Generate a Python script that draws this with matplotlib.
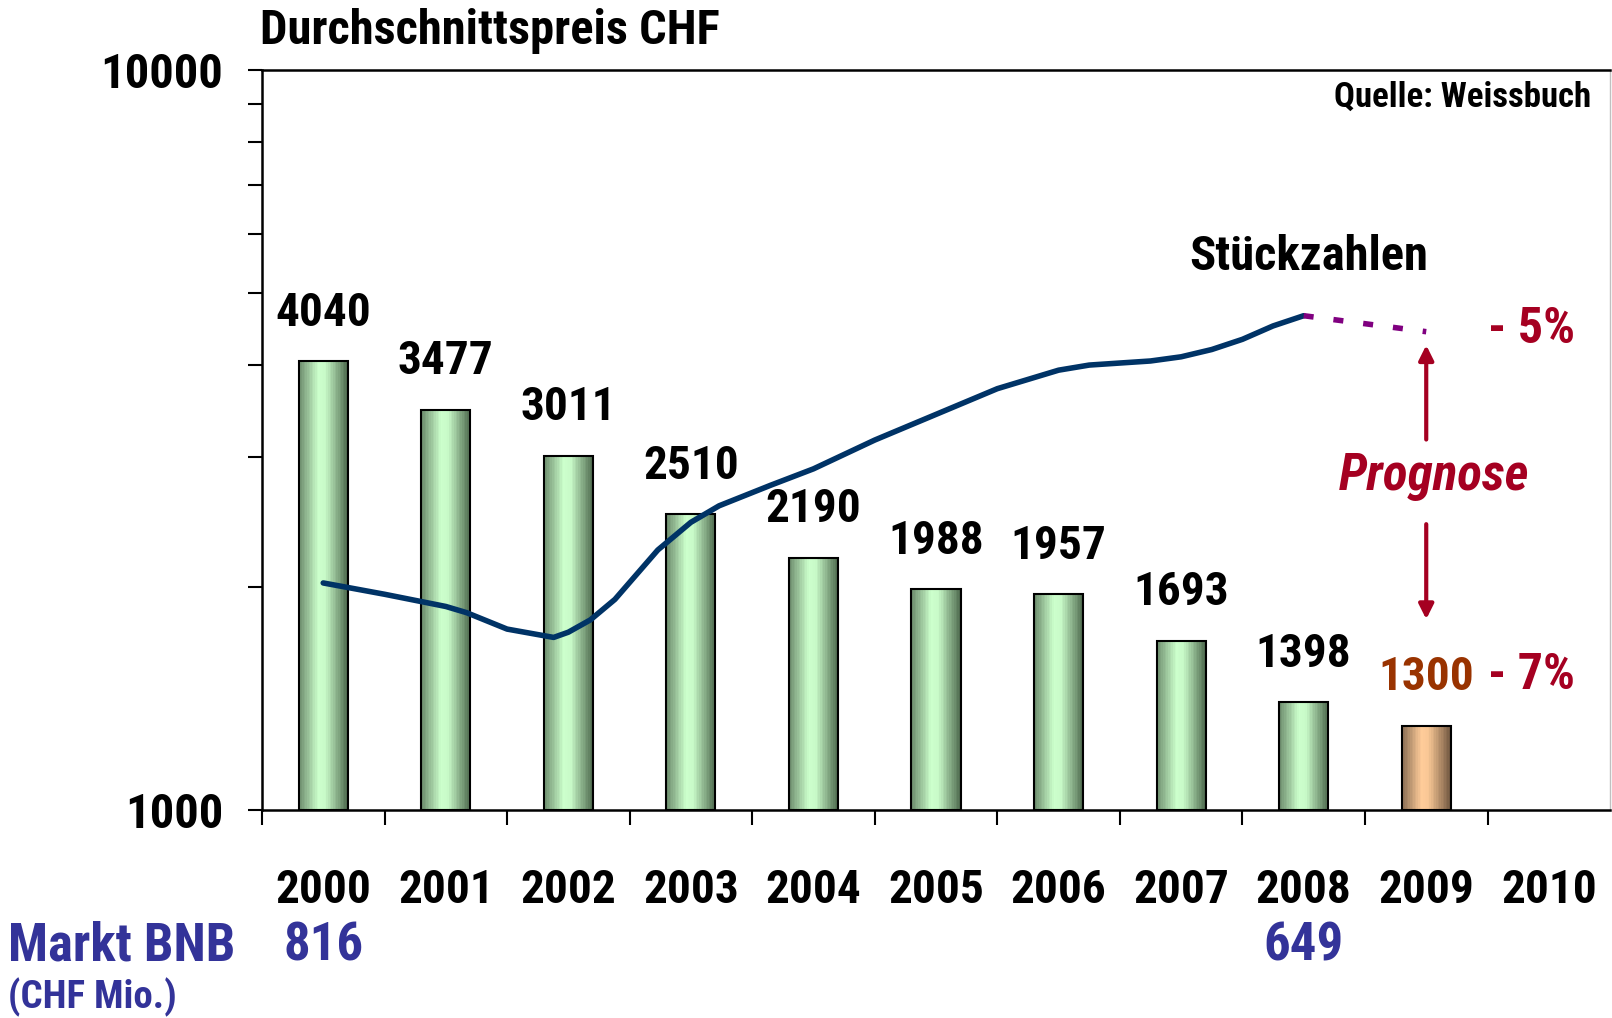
import matplotlib
matplotlib.use("Agg")
import numpy as np
import matplotlib.pyplot as plt
import matplotlib.transforms as mtransforms
from matplotlib.colors import LinearSegmentedColormap
from matplotlib.ticker import NullFormatter

plt.rcParams['font.family'] = ['Roboto Condensed', 'Liberation Sans', 'DejaVu Sans']
plt.rcParams['font.weight'] = 'bold'

# data
years = ['2000', '2001', '2002', '2003', '2004', '2005',
         '2006', '2007', '2008', '2009', '2010']
prices = [4040, 3477, 3011, 2510, 2190, 1988, 1957, 1693, 1398, 1300]
forecast_bar = 9

# Stückzahlen curve (same log axis, positions in category units)
units_x = [0, 0.5, 1, 1.17, 1.5, 1.88, 2, 2.18, 2.38, 2.73, 3, 3.23, 3.65,
           4, 4.5, 5, 5.5, 6, 6.25, 6.75, 7, 7.25, 7.5, 7.75, 8]
units = [2027, 1957, 1884, 1848, 1756, 1711, 1739, 1807, 1926, 2246, 2448,
         2577, 2747, 2891, 3162, 3425, 3710, 3930, 3993, 4044, 4097, 4191,
         4326, 4510, 4656]
forecast_x = [8, 9]
forecast_units = [4656, 4430]

market_labels = {0: '816', 8: '649'}

blue = '#333399'
darkred = '#A50021'
brown = '#993300'

green_cmap = LinearSegmentedColormap.from_list(
    'g', [(0, '#6f8f6f'), (0.4, '#ccffcc'), (0.55, '#c8fac8'), (1, '#526e52')])
orange_cmap = LinearSegmentedColormap.from_list(
    'o', [(0, '#8c7056'), (0.4, '#ffcc99'), (0.55, '#f8c795'), (1, '#765b43')])

fig = plt.figure(figsize=(16.12, 10.18), dpi=100)
ax = fig.add_axes([0.1625, 0.2043, 0.8363, 0.7269])
ax.set_yscale('log')

bar_w = 0.40
n_slices = 30
for i, v in enumerate(prices):
    cmap = orange_cmap if i == forecast_bar else green_cmap
    left = i - bar_w / 2
    sw = bar_w / n_slices
    xs = left + sw * (np.arange(n_slices) + 0.5)
    cols = [cmap(k / (n_slices - 1)) for k in range(n_slices)]
    ax.bar(xs, v - 1000, bottom=1000, width=sw * 1.02, color=cols,
           linewidth=0, zorder=2)
    ax.bar(i, v - 1000, bottom=1000, width=bar_w, fill=False,
           edgecolor='black', linewidth=1.5, zorder=3)
    ax.annotate(str(v), (i, v), xytext=(0, 35), textcoords='offset points',
                ha='center', va='center', fontsize=34,
                color=brown if i == forecast_bar else 'black')

ax.plot(units_x, units, color='#003366', linewidth=4, zorder=4,
        solid_capstyle='round')
ax.plot(forecast_x, forecast_units, color='#800080', linewidth=4,
        linestyle=(0, (1.8, 3.6)), zorder=4)

ax.set_xlim(-0.5, 10.5)
ax.set_ylim(1000, 10000)

ax.set_xticks(range(len(years)))
ax.set_xticklabels(years, fontsize=34)
ax.tick_params(axis='x', which='major', length=0, pad=42)
ax.set_xticks(np.arange(-0.5, 10), minor=True)
ax.tick_params(axis='x', which='minor', length=11, width=1.5, direction='out')

ax.set_yticks([1000, 10000])
ax.set_yticklabels(['1000', '10000'], fontsize=35)
ax.set_yticks([2000, 3000, 4000, 5000, 6000, 7000, 8000, 9000], minor=True)
ax.yaxis.set_minor_formatter(NullFormatter())
ax.tick_params(axis='y', which='both', length=10, width=1.5,
               direction='out', pad=18)

for s in ['left', 'bottom', 'top']:
    ax.spines[s].set_linewidth(1.8)
ax.spines['right'].set_color('#c0c0c0')
ax.spines['right'].set_linewidth(1)

# annotations
ax.text(0.986, 0.9625, 'Quelle: Weissbuch', transform=ax.transAxes,
        ha='right', va='center', fontsize=25)
ax.text(8.04, 5585, 'Stückzahlen', ha='center', va='center', fontsize=35)
ax.text(9.5, 4467, '- 5%', ha='left', va='center', fontsize=36, color=darkred)
ax.text(9.5, 1520, '- 7%', ha='left', va='center', fontsize=36, color=darkred)
ax.text(9.06, 2825, 'Prognose', ha='center', va='center', fontsize=37,
        color=darkred, style='italic')
ax.annotate('', xy=(9, 4285), xytext=(9, 3140),
            arrowprops=dict(arrowstyle='-|>', color=darkred, lw=3,
                            mutation_scale=22))
ax.annotate('', xy=(9, 1795), xytext=(9, 2455),
            arrowprops=dict(arrowstyle='-|>', color=darkred, lw=3,
                            mutation_scale=22))

fig.text(0.1613, 0.9695, 'Durchschnittspreis CHF', ha='left', va='center',
         fontsize=35)
fig.text(0.005, 0.0707, 'Markt BNB', ha='left', va='center', fontsize=38,
         color=blue)
fig.text(0.005, 0.0206, '(CHF Mio.)', ha='left', va='center', fontsize=28,
         color=blue)
blend = mtransforms.blended_transform_factory(ax.transData, fig.transFigure)
for k, lab in market_labels.items():
    ax.text(k, 0.0707, lab, transform=blend, ha='center', va='center',
            fontsize=38, color=blue)

fig.savefig('out.png', dpi=100)
